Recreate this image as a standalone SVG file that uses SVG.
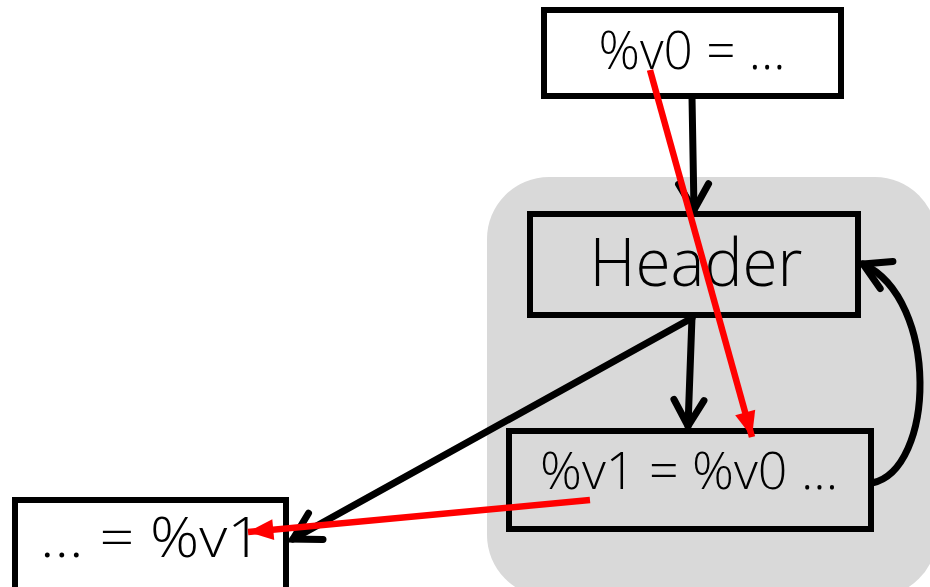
<svg xmlns="http://www.w3.org/2000/svg" width="930" height="587" viewBox="0 0 930 587">
<style>
.box{stroke:#000;stroke-width:6;}
.lbl{font-family:"Open Sans","Liberation Sans",sans-serif;fill:#000;text-anchor:middle;font-weight:300;}
.blk{stroke:#000;stroke-width:7;fill:none;stroke-linecap:round;}
.red{stroke:#ff0000;stroke-width:6.5;fill:none;}
</style>
<defs>
<marker id="chev" markerUnits="userSpaceOnUse" markerWidth="40" markerHeight="40" viewBox="-34 -20 40 40" refX="0" refY="0" orient="auto">
<path d="M-26,-15 L0,0 L-26,15" fill="none" stroke="#000" stroke-width="7" stroke-linecap="round" stroke-linejoin="miter"/>
</marker>
<marker id="tri" markerUnits="userSpaceOnUse" markerWidth="30" markerHeight="30" viewBox="-24 -12 26 24" refX="0" refY="0" orient="auto">
<path d="M-22,-9 L0,0 L-22,9 Z" fill="#ff0000"/>
</marker>
</defs>
<rect id="loop" x="487" y="177" width="450" height="420" rx="62" fill="#d9d9d9"/>
<g id="n0">
<rect class="box" x="544" y="10" width="297" height="86" fill="#fff"/>
<text class="lbl" x="692" y="69" font-size="54" textLength="187" lengthAdjust="spacingAndGlyphs">%v0 = ...</text>
</g>
<g id="header">
<rect class="box" x="530" y="214" width="328" height="101" fill="#d9d9d9"/>
<text class="lbl" x="696" y="286" font-size="66" textLength="213" lengthAdjust="spacingAndGlyphs">Header</text>
</g>
<g id="body">
<rect class="box" x="509" y="431" width="362" height="98" fill="#d9d9d9"/>
<text class="lbl" x="689" y="489" font-size="52" textLength="298" lengthAdjust="spacingAndGlyphs">%v1 = %v0 ...</text>
</g>
<g id="exit">
<rect class="box" x="15" y="500" width="271" height="95" fill="#fff"/>
<text class="lbl" x="151" y="557" font-size="56" textLength="222" lengthAdjust="spacingAndGlyphs">... = %v1</text>
</g>
<g id="edges">
<path class="blk" d="M692,97 L694,210" marker-end="url(#chev)"/>
<path class="blk" d="M692,317 L688,426" marker-end="url(#chev)"/>
<path class="blk" d="M692,318 L293,539" marker-end="url(#chev)"/>
<path class="blk" d="M872,483 C935,470 940,300 863,264" marker-end="url(#chev)"/>
<path class="red" d="M650,70 L752,437" marker-end="url(#tri)"/>
<path class="red" d="M590,500 L248,532" marker-end="url(#tri)"/>
</g>
</svg>
